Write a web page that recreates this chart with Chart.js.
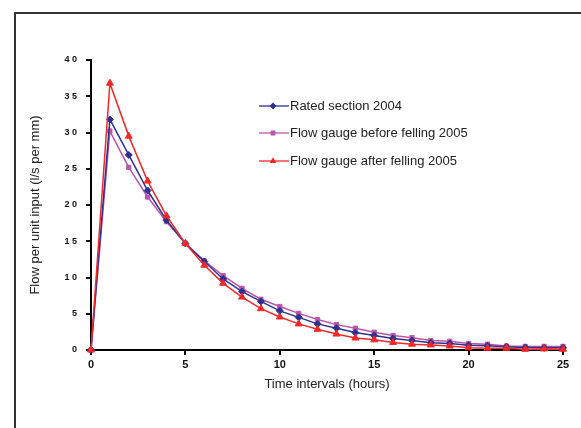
<!DOCTYPE html>
<html>
<head>
<meta charset="utf-8">
<script src="https://cdn.jsdelivr.net/npm/chart.js@4.4.0/dist/chart.umd.min.js"></script>
<style>
  body { margin: 0; background: #fff; }
  #wrap { position: relative; width: 581px; height: 428px; overflow: hidden; }
  #frame { position: absolute; left: 14px; top: 12px; width: 620px; height: 460px; border: 2px solid #333; }
  canvas { position: absolute; left: 0; top: 0; }
</style>
</head>
<body>
<div id="wrap">
  <div id="frame"></div>
  <canvas id="myChart" width="581" height="428"></canvas>
</div>
<script>
// time steps (hours)
var hours = [0,1,2,3,4,5,6,7,8,9,10,11,12,13,14,15,16,17,18,19,20,21,22,23,24,25];

// flow per unit input, l/s per mm
var rated2004 = [0, 31.8, 26.9, 22.0, 17.9, 14.7, 12.2, 9.8, 8.05, 6.7, 5.4, 4.5, 3.6, 3.0, 2.4, 2.0, 1.6, 1.3, 1.0, 0.9, 0.65, 0.6, 0.45, 0.35, 0.3, 0.3];
var beforeFelling2005 = [0, 30.2, 25.2, 21.1, 17.7, 14.7, 12.3, 10.25, 8.5, 7.0, 6.0, 5.05, 4.2, 3.5, 3.0, 2.45, 2.0, 1.7, 1.3, 1.2, 0.9, 0.8, 0.55, 0.5, 0.5, 0.5];
var afterFelling2005 = [0, 36.8, 29.5, 23.3, 18.5, 14.7, 11.7, 9.2, 7.3, 5.7, 4.55, 3.6, 2.85, 2.2, 1.65, 1.4, 1.05, 0.8, 0.7, 0.55, 0.3, 0.25, 0.25, 0.1, 0.15, 0.1];

var seriesNames = ['Rated section 2004', 'Flow gauge before felling 2005', 'Flow gauge after felling 2005'];

var yTicks = [0, 5, 10, 15, 20, 25, 30, 35, 40];
var xTicks = [0, 5, 10, 15, 20, 25];

function toPoints(vals) {
  return hours.map(function (h, i) { return { x: h, y: vals[i] }; });
}

// legend drawn inside the plot, like the original
var innerLegend = {
  id: 'innerLegend',
  afterDraw: function (chart) {
    var ctx = chart.ctx;
    var rows = [106, 133, 161];
    chart.data.datasets.forEach(function (ds, i) {
      var y = rows[i];
      ctx.save();
      ctx.strokeStyle = ds.borderColor;
      ctx.lineWidth = 1.3;
      ctx.beginPath();
      ctx.moveTo(259, y);
      ctx.lineTo(289, y);
      ctx.stroke();
      ctx.fillStyle = ds.pointBackgroundColor;
      ctx.strokeStyle = ds.borderColor;
      Chart.helpers.drawPoint(ctx, { pointStyle: ds.pointStyle, radius: 2.5, rotation: 0, borderWidth: 1 }, 273, y);
      ctx.fillStyle = '#222';
      ctx.font = '13px "Liberation Sans", Arial, sans-serif';
      ctx.textBaseline = 'middle';
      ctx.fillText(ds.label, 290, y + 0.5);
      ctx.restore();
    });
  }
};

var ctx = document.getElementById('myChart').getContext('2d');
var myChart = new Chart(ctx, {
  type: 'line',
  data: {
    datasets: [{
      label: seriesNames[0],
      data: toPoints(rated2004),
      borderColor: '#2E3190',
      pointBackgroundColor: '#2E3190',
      pointStyle: 'rectRot',
      pointRadius: 3.5,
      order: 1
    }, {
      label: seriesNames[1],
      data: toPoints(beforeFelling2005),
      borderColor: '#BB55AA',
      pointBackgroundColor: '#BB55AA',
      pointStyle: 'rect',
      pointRadius: 3,
      order: 2
    }, {
      label: seriesNames[2],
      data: toPoints(afterFelling2005),
      borderColor: '#F02828',
      pointBackgroundColor: '#F02828',
      pointStyle: 'triangle',
      pointRadius: 4,
      order: 0
    }]
  },
  options: {
    responsive: false,
    animation: false,
    clip: false,
    elements: {
      line: { borderWidth: 1.5, tension: 0 },
      point: { borderWidth: 1 }
    },
    layout: { padding: { left: 24, top: 60, right: 18, bottom: 32 } },
    plugins: {
      legend: { display: false },
      tooltip: { enabled: false }
    },
    scales: {
      x: {
        type: 'linear',
        min: 0,
        max: 25,
        afterFit: function (scale) { scale.height = 46; },
        afterBuildTicks: function (scale) {
          scale.ticks = xTicks.map(function (v) { return { value: v }; });
        },
        border: { color: '#000', width: 2 },
        grid: { drawOnChartArea: false, tickLength: 5, color: '#000', lineWidth: 2 },
        ticks: {
          color: '#111',
          padding: 3,
          maxRotation: 0,
          font: { family: '"Liberation Sans", Arial, sans-serif', size: 11, weight: 'bold' }
        },
        title: {
          display: true,
          text: 'Time intervals (hours)',
          color: '#222',
          font: { family: '"Liberation Sans", Arial, sans-serif', size: 13 }
        }
      },
      y: {
        min: 0,
        max: 40,
        afterFit: function (scale) { scale.width = 67; },
        afterBuildTicks: function (scale) {
          scale.ticks = yTicks.map(function (v) { return { value: v }; });
        },
        border: { color: '#000', width: 2 },
        grid: { drawOnChartArea: false, tickLength: 5, color: '#000', lineWidth: 2 },
        ticks: {
          color: '#111',
          padding: 9,
          callback: function (v) { return String(v).split('').join(' '); },
          font: { family: '"Liberation Sans", Arial, sans-serif', size: 9, weight: 'bold' }
        },
        title: {
          display: true,
          text: 'Flow per unit input (l/s per mm)',
          color: '#222',
          font: { family: '"Liberation Sans", Arial, sans-serif', size: 13 }
        }
      }
    }
  },
  plugins: [innerLegend]
});
</script>
</body>
</html>
